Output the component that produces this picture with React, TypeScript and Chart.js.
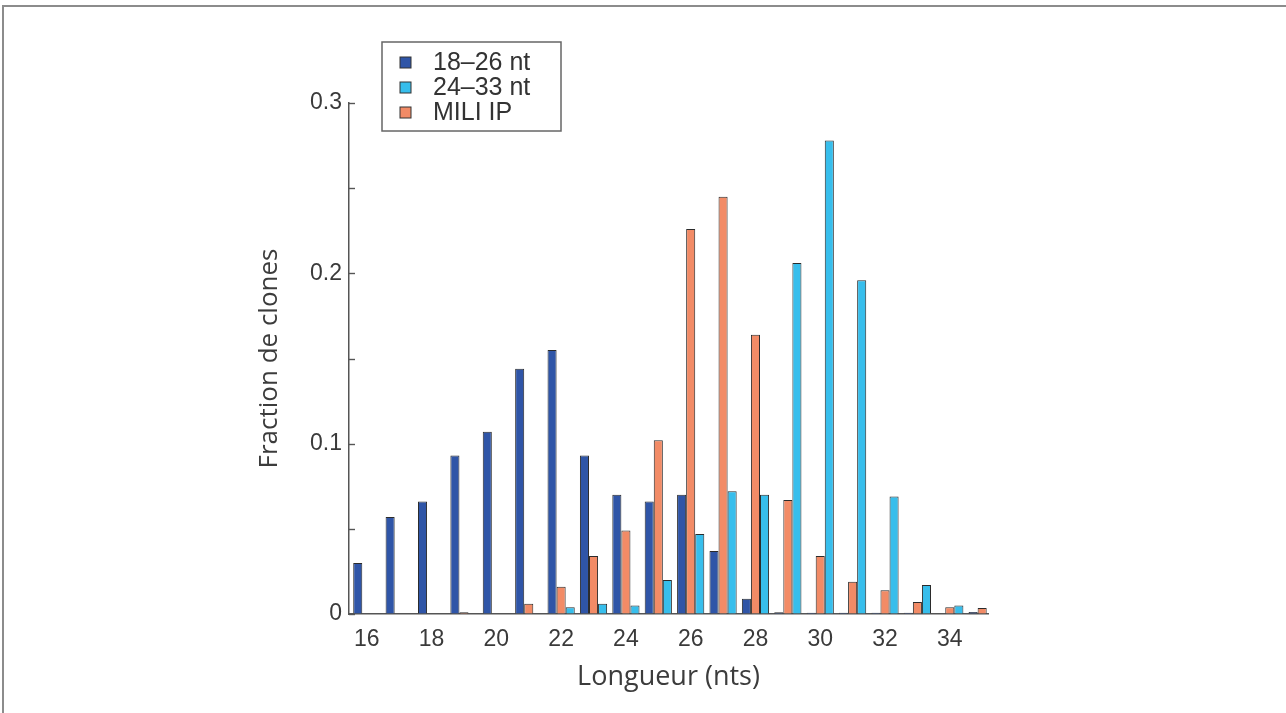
import React, { useEffect, useRef } from "react";
import { Chart, registerables } from "chart.js";

Chart.register(...registerables);

// Read lengths (nt) along the x axis
const LENGTHS = [16, 17, 18, 19, 20, 21, 22, 23, 24, 25, 26, 27, 28, 29, 30, 31, 32, 33, 34, 35];
// Fraction of clones per length
const SHORT_RNA = [0.030, 0.057, 0.066, 0.093, 0.107, 0.144, 0.155, 0.093, 0.070, 0.066, 0.070, 0.037, 0.009, 0.001, 0.0008, 0.0008, 0.0008, 0.0008, null, 0.0012];
const MILI_IP = [null, null, null, 0.001, null, 0.006, 0.016, 0.034, 0.049, 0.102, 0.226, 0.245, 0.164, 0.067, 0.034, 0.019, 0.014, 0.007, 0.004, 0.0035];
const LONG_RNA = [null, null, null, null, null, null, 0.004, 0.006, 0.005, 0.020, 0.047, 0.072, 0.070, 0.206, 0.278, 0.196, 0.069, 0.017, 0.005, null];

const SERIES_NAMES = ["18\u201326 nt", "MILI IP", "24\u201333 nt"];
const LEGEND_ORDER = [0, 2, 1];
const X_TICKS = [16, 18, 20, 22, 24, 26, 28, 30, 32, 34];
const Y_TICKS = [0, 0.05, 0.1, 0.15, 0.2, 0.25, 0.3];
const Y_TICK_LABELS: Record<string, string> = { "0": "0", "0.1": "0.1", "0.2": "0.2", "0.3": "0.3" };

const COLORS = ["#2F55A7", "#F28B66", "#37BEEC"];

const inwardTicks = {
  id: "inwardTicks",
  afterDraw(chart: any) {
    const y = chart.scales.y;
    const ctx = chart.ctx;
    const left = chart.chartArea.left;
    ctx.save();
    ctx.strokeStyle = "#555";
    ctx.lineWidth = 1.4;
    for (const v of Y_TICKS) {
      const py = Math.round(y.getPixelForValue(v)) + 0.5;
      ctx.beginPath();
      ctx.moveTo(left, py);
      ctx.lineTo(left + 6, py);
      ctx.stroke();
    }
    ctx.restore();
  },
};

const boxLegend = {
  id: "boxLegend",
  afterDraw(chart: any) {
    const ctx = chart.ctx;
    const area = chart.chartArea;
    const bx = area.left + 33;
    const by = area.top - 61;
    ctx.save();
    ctx.fillStyle = "#fff";
    ctx.fillRect(bx, by, 179, 89);
    ctx.strokeStyle = "#666";
    ctx.lineWidth = 1.5;
    ctx.strokeRect(bx, by, 179, 89);
    ctx.font = "25px 'Liberation Sans', Arial, sans-serif";
    ctx.textBaseline = "middle";
    LEGEND_ORDER.forEach((di, i) => {
      const ds = chart.data.datasets[di];
      const cy = by + 20 + i * 25;
      ctx.fillStyle = ds.backgroundColor;
      ctx.fillRect(bx + 18, cy - 5, 11, 11);
      ctx.strokeStyle = "#333";
      ctx.lineWidth = 1;
      ctx.strokeRect(bx + 18, cy - 5, 11, 11);
      ctx.fillStyle = "#333";
      ctx.fillText(ds.label, bx + 51, cy + 1);
    });
    ctx.restore();
  },
};

export default function App() {
  const canvasRef = useRef<HTMLCanvasElement | null>(null);

  useEffect(() => {
    if (!canvasRef.current) return;
    const series = [SHORT_RNA, MILI_IP, LONG_RNA];
    const chart = new Chart(canvasRef.current, {
      type: "bar",
      data: {
        datasets: series.map((vals, i) => ({
          label: SERIES_NAMES[i],
          data: LENGTHS.map((x, j) => ({ x, y: vals[j] })),
          backgroundColor: COLORS[i],
          borderColor: "#2b2b2b",
          borderWidth: 1,
          borderSkipped: "start" as const,
          categoryPercentage: 0.84,
          barPercentage: 1.0,
        })),
      },
      options: {
        animation: false,
        responsive: true,
        maintainAspectRatio: false,
        layout: { padding: { left: 249, right: 298, top: 103, bottom: 0 } },
        plugins: {
          legend: { display: false },
          tooltip: { enabled: false },
        },
        scales: {
          x: {
            type: "linear",
            offset: false,
            min: 15.45,
            max: 35.18,
            afterFit: (s: any) => { s.height = 99; },
            afterBuildTicks: (s: any) => { s.ticks = X_TICKS.map((v) => ({ value: v })); },
            grid: { display: true, drawOnChartArea: false, drawTicks: false },
            border: { display: true, color: "#555", width: 1.5 },
            ticks: {
              padding: 12,
              color: "#3a3a3a",
              font: { family: "'Liberation Sans', Arial, sans-serif", size: 23 },
              callback: (v: any) => String(v),
            },
            title: {
              display: true,
              text: "Longueur (nts)",
              color: "#3c3c3c",
              font: { family: "'Open Sans', sans-serif", size: 27 },
              padding: { top: 0, bottom: 19 },
            },
          },
          y: {
            min: 0,
            max: 0.3,
            afterFit: (s: any) => { s.width = 100; },
            afterBuildTicks: (s: any) => { s.ticks = Y_TICKS.map((v) => ({ value: v })); },
            grid: { display: true, drawOnChartArea: false, drawTicks: false },
            border: { display: true, color: "#555", width: 1.5 },
            ticks: {
              padding: 7,
              color: "#3a3a3a",
              font: { family: "'Liberation Sans', Arial, sans-serif", size: 23 },
              callback: (v: any) => Y_TICK_LABELS[String(Math.round(v * 100) / 100)] ?? "",
            },
            title: {
              display: true,
              text: "Fraction de clones",
              color: "#3c3c3c",
              font: { family: "'Open Sans', sans-serif", size: 26 },
              padding: { top: 5, bottom: 0 },
            },
          },
        },
      },
      plugins: [inwardTicks, boxLegend],
    });
    return () => chart.destroy();
  }, []);

  return (
    <div style={{ position: "fixed", left: 0, top: 0, width: 1286, height: 713, background: "#fff" }}>
      <div
        style={{
          position: "absolute",
          left: 2,
          top: 5,
          right: 0,
          bottom: 0,
          borderTop: "2px solid #8c8c8c",
          borderLeft: "2px solid #8c8c8c",
        }}
      />
      <canvas ref={canvasRef} style={{ position: "absolute", left: 0, top: 0 }} />
    </div>
  );
}
